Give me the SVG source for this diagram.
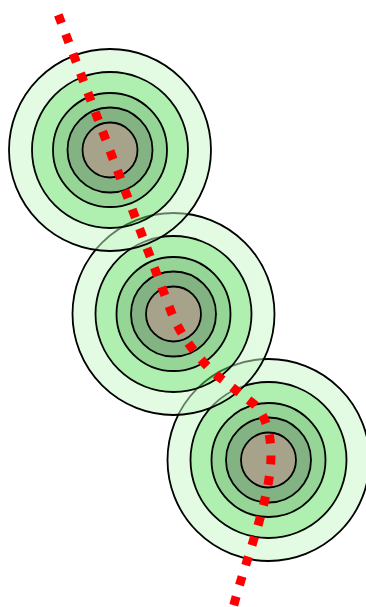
<svg xmlns="http://www.w3.org/2000/svg" width="366" height="607" viewBox="0 0 366 607">
<style>
.f{opacity:0.5}
.r1{fill:#c9f9c9}
.r2{fill:#61e161}
.r3{fill:#2dad2d}
.r4{fill:#096909}
.r5{fill:#514919}
.s circle{fill:none;stroke:#000;stroke-width:1.8}
.path{fill:none;stroke:#ff0000;stroke-width:9;stroke-dasharray:9 11.8;stroke-linecap:butt}
</style>
<defs>
<g id="fills">
<circle class="r1" r="101"/>
<circle class="r2" r="78"/>
<circle class="r3" r="57"/>
<circle class="r4" r="42.5"/>
<circle class="r5" r="27.5"/>
</g>
<g id="strokes" class="s">
<circle r="101"/>
<circle r="78"/>
<circle r="57"/>
<circle r="42.5"/>
<circle r="27.5"/>
</g>
</defs>
<g id="node3" transform="translate(268.5,460)">
<use href="#fills" class="f"/>
<use href="#strokes"/>
</g>
<g id="node2" transform="translate(173.5,314)">
<use href="#fills" class="f"/>
<use href="#strokes"/>
</g>
<g id="node1" transform="translate(110,150)">
<use href="#fills" class="f"/>
<use href="#strokes"/>
</g>
<g id="connectors">
<path class="path" d="M58.3,14.8 L172,314 Q185,345 215,374 L255,405 Q271,422 271,455 C271,500 245,560 232,612"/>
</g>
</svg>
